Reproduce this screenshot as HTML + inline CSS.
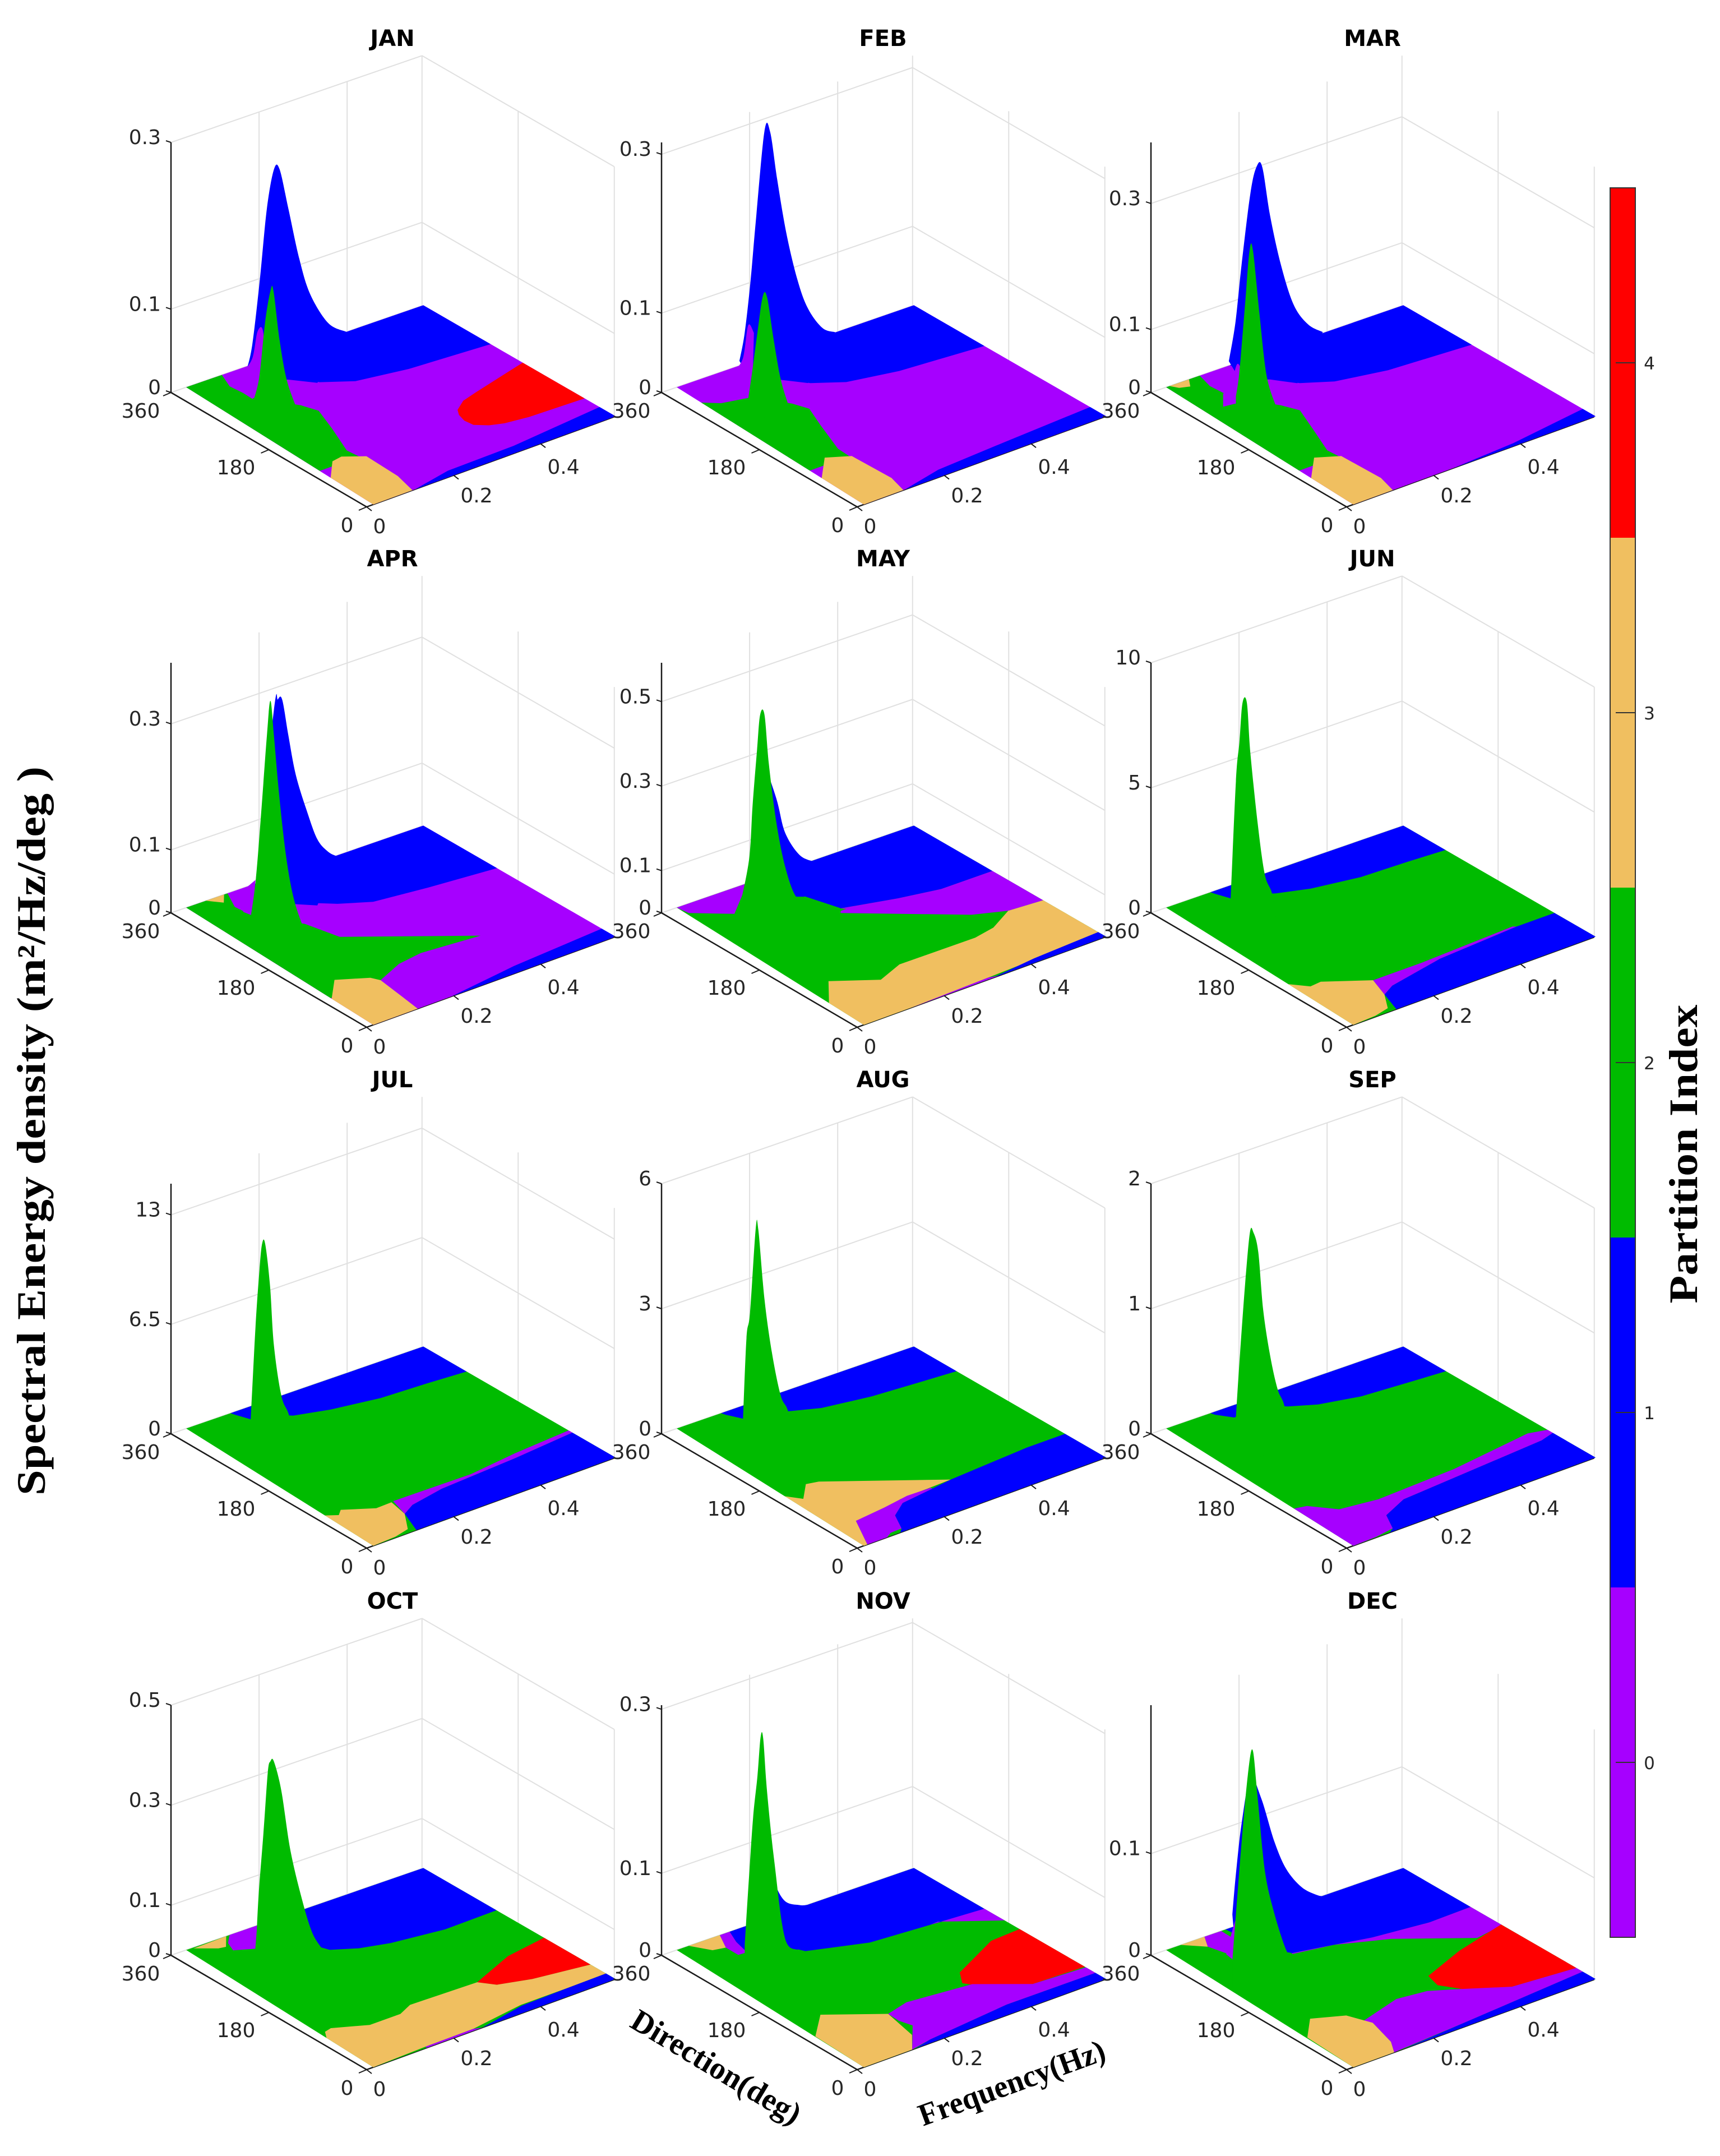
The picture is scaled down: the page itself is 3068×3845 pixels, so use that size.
<!DOCTYPE html>
<html lang="en">
<head>
<meta charset="utf-8">
<title>Monthly partitioned spectral energy density</title>
<style>
html,body{margin:0;padding:0;background:#fff;}
svg{display:block;}
text{font-family:"DejaVu Sans","Liberation Sans",sans-serif;fill:#262626;}
.big{font-family:"Liberation Serif",serif;font-weight:bold;fill:#000;}
</style>
</head>
<body>
<svg id="chart" xmlns="http://www.w3.org/2000/svg" width="3068" height="3845" viewBox="0 0 3068 3845">
<rect x="0" y="0" width="3068" height="3845" fill="#ffffff"/>
<g id="panels"></g>
<g id="colorbar"></g>
<text class="big" transform="translate(80 2017) rotate(-90)" text-anchor="middle" font-size="72" textLength="1300" lengthAdjust="spacingAndGlyphs">Spectral Energy density (m²/Hz/deg )</text>
<text class="big" transform="translate(3027 2058) rotate(-90)" text-anchor="middle" font-size="72" textLength="533" lengthAdjust="spacingAndGlyphs">Partition Index</text>
<text class="big" transform="translate(1268 3702) rotate(31)" text-anchor="middle" font-size="56" textLength="343" lengthAdjust="spacingAndGlyphs">Direction(deg)</text>
<text class="big" transform="translate(1811 3732) rotate(-20)" text-anchor="middle" font-size="56" textLength="350" lengthAdjust="spacingAndGlyphs">Frequency(Hz)</text>
</svg>
<script>
const months = ['JAN','FEB','MAR','APR','MAY','JUN','JUL','AUG','SEP','OCT','NOV','DEC'];
const zMax = [0.3,0.315,0.397,0.397,0.592,10,14.85,6,2,0.5,0.305,0.246];
const zTicks = [[0,0.1,0.3],[0,0.1,0.3],[0,0.1,0.3],[0,0.1,0.3],[0,0.1,0.3,0.5],[0,5,10],[0,6.5,13],[0,3,6],[0,1,2],[0,0.1,0.3,0.5],[0,0.1,0.3],[0,0.1]];
const basePartition = [0,0,0,0,2,2,2,2,2,2,2,2];
const freqDomain = [0.022,0.573];
const freqAxisMax = 0.57;
const partitionTicks = [0,1,2,3,4];
const partitionColors = ['#a600ff','#0000ff','#00bb00','#f0bf60','#ff0000'];

/* regions: [partition, [[frequency, direction], ...]] */
const janRegions = [
[1,[[.573,360],[.573,234],[.394,242],[.287,255],[.232,278],[.204,308],[.17,360]]],
[1,[[.117,0],[.207,13],[.359,15],[.573,30],[.573,0]]],
[4,[[.365,126],[.395,140],[.434,148],[.573,174],[.573,58],[.45,61],[.4,66],[.373,73],[.352,85],[.349,100],[.355,115]]],
[2,[[.022,360],[.105,360],[.089,332],[.096,295],[.149,245],[.162,222],[.139,177],[.109,124],[.113,103],[.022,103]]],
[3,[[.063,113],[.087,116],[.124,99],[.123,38],[.111,0],[.022,0],[.022,82]]]];
const febRegions = [
[1,[[.573,360],[.573,228],[.389,238],[.285,253],[.23,276],[.201,304],[.17,360]]],
[1,[[.115,0],[.209,15],[.368,22],[.573,30],[.573,0]]],
[2,[[.022,313],[.05,298],[.108,289],[.154,248],[.167,226],[.144,185],[.114,127],[.113,104],[.022,104]]],
[3,[[.074,119],[.117,103],[.123,32],[.112,0],[.022,0],[.022,81]]]];
const marRegions = [
[1,[[.573,360],[.573,232],[.39,240],[.285,255],[.23,276],[.2,304],[.17,360]]],
[1,[[.25,0],[.393,6],[.573,24],[.573,0]]],
[2,[[.022,360],[.1,360],[.09,332],[.096,295],[.149,245],[.165,222],[.14,177],[.11,124],[.113,104],[.022,104]]],
[3,[[.03,360],[.075,360],[.06,345],[.04,350]]],
[3,[[.074,119],[.117,103],[.123,32],[.112,0],[.022,0],[.022,81]]]];
const aprRegions = [
[1,[[.573,360],[.573,222],[.424,232],[.312,242],[.255,263],[.206,290],[.165,360]]],
[1,[[.2,0],[.36,15],[.573,26],[.573,0]]],
[2,[[.022,360],[.118,360],[.096,328],[.102,297],[.159,246],[.179,196],[.305,137],[.385,99],[.258,107],[.201,101],[.136,82],[.022,82]]],
[3,[[.068,360],[.11,360],[.09,344]]],
[3,[[.07,115],[.127,94],[.136,82],[.128,30],[.123,0],[.022,0],[.022,80]]]];
const mayRegions = [
[0,[[.022,360],[.186,360],[.093,308],[.027,341]]],
[1,[[.573,360],[.573,213],[.455,213],[.37,225],[.263,245],[.235,302],[.19,360]]],
[0,[[.573,213],[.573,118],[.498,122],[.436,140],[.251,236],[.263,245],[.37,225],[.455,213]]],
[3,[[.072,110],[.151,76],[.214,93],[.386,92],[.436,99],[.498,122],[.573,118],[.573,10],[.35,5],[.15,0],[.022,0],[.022,67]]],
[1,[[.31,0],[.42,9],[.573,15],[.573,0]]],
[0,[[.13,0],[.31,4],[.33,0]]]];
const junRegions = [
[1,[[.573,360],[.573,281],[.489,284],[.383,286],[.282,298],[.218,313],[.18,330],[.142,331],[.128,354],[.125,360]]],
[1,[[.573,77],[.486,77],[.301,68],[.169,49],[.137,37],[.12,0],[.573,0]]],
[0,[[.154,73],[.266,73],[.481,80],[.486,77],[.301,68],[.169,49],[.137,37]]],
[3,[[.022,125],[.049,105],[.075,107],[.154,73],[.137,37],[.11,8],[.075,2],[.022,0]]]];
const julRegions = [
[1,[[.573,360],[.573,279],[.487,283],[.383,286],[.282,298],[.212,312],[.18,330],[.142,331],[.128,354],[.125,360]]],
[1,[[.573,81],[.429,71],[.253,63],[.173,52],[.141,40],[.12,0],[.573,0]]],
[0,[[.154,73],[.329,71],[.442,81],[.573,88],[.573,81],[.429,71],[.253,63],[.173,52],[.141,40]]],
[3,[[.022,93],[.043,84],[.058,93],[.113,71],[.149,72],[.141,40],[.11,8],[.075,2],[.022,0]]]];
const augRegions = [
[1,[[.573,360],[.573,280],[.489,284],[.388,289],[.286,301],[.234,316],[.19,330],[.147,331],[.128,354],[.125,360]]],
[1,[[.573,77],[.486,77],[.301,68],[.177,56],[.137,37],[.116,7],[.105,0],[.573,0]]],
[3,[[.022,152],[.043,134],[.081,161],[.106,157],[.301,68],[.181,65],[.14,40],[.068,54],[.03,0],[.022,0]]],
[0,[[.03,0],[.068,54],[.14,60],[.2,67],[.253,66],[.253,63],[.177,56],[.137,37],[.116,7],[.09,6],[.075,0]]]];
const sepRegions = [
[1,[[.573,360],[.573,280],[.489,284],[.388,289],[.305,303],[.256,320],[.22,340],[.15,335],[.128,354],[.125,360]]],
[0,[[.022,114],[.047,110],[.086,81],[.166,73],[.347,79],[.536,97],[.573,90],[.573,80],[.539,73],[.335,62],[.202,55],[.14,36],[.119,6],[.075,1],[.022,0]]],
[1,[[.573,80],[.539,73],[.335,62],[.202,55],[.14,36],[.119,6],[.105,0],[.573,0]]]];
const octRegions = [
[1,[[.573,360],[.573,223],[.452,221],[.34,232],[.281,244],[.235,261],[.21,300],[.17,345],[.165,360]]],
[0,[[.101,345],[.123,360],[.187,360],[.128,315],[.091,327]]],
[3,[[.037,358],[.115,360],[.089,339],[.074,341]]],
[4,[[.37,93],[.477,123],[.573,134],[.573,47],[.456,60],[.392,74]]],
[3,[[.034,103],[.051,106],[.115,85],[.185,85],[.22,96],[.37,93],[.392,74],[.456,60],[.573,47],[.573,18],[.494,17],[.378,17],[.254,4],[.144,3],[.022,0],[.022,90]]],
[1,[[.27,0],[.378,15],[.494,17],[.573,18],[.573,0]]],
[0,[[.144,0],[.144,3],[.254,4],[.27,0]]]];
const novRegions = [
[1,[[.573,360],[.573,225],[.456,234],[.325,241],[.21,269],[.17,320],[.167,360]]],
[0,[[.573,228],[.573,190],[.474,235],[.456,234]]],
[1,[[.145,360],[.187,360],[.121,307],[.13,335]]],
[0,[[.122,360],[.145,360],[.13,335],[.121,307],[.102,308],[.101,331]]],
[3,[[.05,360],[.122,360],[.101,331],[.075,335]]],
[4,[[.382,118],[.504,159],[.573,162],[.573,40],[.458,43],[.381,75],[.36,95]]],
[0,[[.181,87],[.235,97],[.372,86],[.458,43],[.573,38],[.573,20],[.372,21],[.181,7],[.132,0],[.189,47],[.18,66]]],
[1,[[.14,0],[.181,7],[.372,21],[.573,20],[.573,0]]],
[3,[[.023,94],[.081,133],[.181,87],[.166,29],[.132,0],[.022,0]]]];
const decRegions = [
[1,[[.573,360],[.573,234],[.476,232],[.356,242],[.247,260],[.201,267],[.17,310],[.16,360]]],
[0,[[.573,234],[.573,175],[.506,167],[.38,226],[.283,254],[.199,265],[.201,267],[.247,260],[.356,242],[.476,232]]],
[0,[[.111,360],[.15,360],[.15,300],[.11,298],[.092,338]]],
[3,[[.056,360],[.111,360],[.092,338]]],
[4,[[.344,126],[.449,154],[.573,177],[.573,36],[.437,45],[.365,72],[.335,101]]],
[0,[[.143,83],[.243,103],[.306,97],[.349,81],[.437,45],[.573,36],[.573,24],[.284,8],[.115,0],[.135,23],[.153,73]]],
[1,[[.14,0],[.284,8],[.573,24],[.573,0]]],
[3,[[.024,90],[.072,125],[.132,106],[.153,73],[.135,23],[.115,0],[.022,0]]]];

/* peaks: [partition, direction, [[frequency, energy], ...]] */
const janPeaks = [
[1,270,[[.062,.052],[.074,.079],[.091,.153],[.107,.235],[.123,.279],[.136,.277],[.156,.226],[.181,.161],[.206,.114],[.247,.072],[.288,.054],[.222,.005],[.156,.021],[.082,.035]]],
[0,270,[[.053,.049],[.074,.062],[.086,.092],[.099,.087],[.103,.018],[.074,.013],[.049,.026]]],
[2,240,[[.041,.031],[.053,.056],[.066,.118],[.078,.153],[.085,.152],[.099,.09],[.115,.04],[.136,.004],[.136,0],[.041,0]]]];
const febPeaks = [
[1,270,[[.066,.063],[.078,.096],[.091,.157],[.103,.23],[.123,.341],[.136,.338],[.152,.275],[.173,.203],[.198,.14],[.222,.099],[.255,.068],[.284,.057],[.222,.005],[.16,.021],[.091,.035]]],
[0,270,[[.053,.052],[.074,.065],[.086,.104],[.099,.092],[.095,.012],[.053,.018]]],
[2,240,[[.049,.031],[.058,.063],[.07,.11],[.082,.153],[.092,.15],[.107,.094],[.123,.041],[.14,.006],[.14,0],[.049,0]]]];
const marPeaks = [
[1,270,[[.066,.079],[.081,.137],[.095,.225],[.115,.333],[.129,.372],[.142,.369],[.16,.287],[.185,.202],[.214,.132],[.247,.093],[.28,.073],[.222,.006],[.16,.027],[.091,.044]]],
[0,270,[[.053,.03],[.074,.05],[.086,.07],[.099,.05],[.095,.007],[.053,.01]]],
[2,240,[[.045,.043],[.053,.081],[.066,.185],[.076,.267],[.084,.265],[.099,.159],[.115,.059],[.136,.006],[.136,0],[.045,0]]]];
const aprPeaks = [
[1,270,[[.082,.078],[.123,.337],[.132,.352],[.142,.349],[.156,.289],[.173,.222],[.198,.159],[.222,.108],[.247,.082],[.267,.07],[.222,.003],[.173,.017],[.082,.046]]],
[0,270,[[.053,.068],[.081,.078],[.074,.023],[.053,.034]]],
[2,240,[[.033,.045],[.045,.105],[.058,.215],[.07,.325],[.078,.378],[.086,.321],[.099,.216],[.115,.116],[.132,.049],[.152,.002],[.152,0],[.033,0]]]];
const mayPeaks = [
[1,270,[[.115,.404],[.15,.284],[.17,.196],[.203,.131],[.236,.103],[.214,.028],[.115,.065]]],
[2,240,[[.03,.095],[.051,.199],[.059,.325],[.069,.45],[.076,.531],[.086,.528],[.096,.408],[.113,.264],[.133,.152],[.158,.071],[.191,.039],[.273,0],[.03,0]]]];
const junPeaks = [
[2,240,[[.033,1.86],[.045,6.5],[.053,8.03],[.06,9.55],[.07,9.49],[.078,7.44],[.095,4.47],[.111,2.37],[.128,1.47],[.14,0],[.033,0]]]];
const julPeaks = [
[2,240,[[.033,2.76],[.044,8.18],[.053,11.5],[.059,13],[.066,12.95],[.077,10.4],[.086,6.72],[.103,3.58],[.121,2.2],[.135,0],[.033,0]]]];
const augPeaks = [
[2,240,[[.037,1.1],[.045,3.04],[.053,3.62],[.066,5.58],[.072,5.55],[.086,3.83],[.103,2.48],[.123,1.38],[.14,.93],[.155,0],[.037,0]]]];
const sepPeaks = [
[2,240,[[.045,.38],[.053,.81],[.066,1.42],[.077,1.82],[.085,1.81],[.096,1.64],[.107,1.17],[.123,.78],[.14,.49],[.156,.33],[.17,0],[.045,0]]]];
const octPeaks = [
[2,240,[[.045,.073],[.051,.179],[.062,.3],[.072,.419],[.078,.44],[.086,.437],[.103,.373],[.123,.251],[.148,.149],[.173,.069],[.198,.025],[.21,0],[.045,0]]]];
const novPeaks = [
[1,270,[[.123,.141],[.146,.096],[.17,.069],[.203,.058],[.22,.055],[.198,.004],[.115,.029]]],
[2,240,[[.041,.052],[.051,.134],[.06,.203],[.07,.252],[.077,.297],[.083,.296],[.092,.228],[.109,.138],[.133,.042],[.166,.02],[.18,0],[.041,0]]]];
const decPeaks = [
[1,270,[[.074,.057],[.082,.095],[.095,.143],[.115,.185],[.14,.161],[.17,.114],[.197,.083],[.232,.06],[.267,.047],[.285,.043],[.206,0],[.082,.015]]],
[0,270,[[.06,.02],[.085,.053],[.1,.03],[.1,0]]],
[2,240,[[.037,.027],[.045,.071],[.058,.14],[.072,.203],[.083,.227],[.094,.181],[.111,.104],[.133,.058],[.16,.018],[.173,.012],[.19,0],[.037,0]]]];

const allRegions = [janRegions,febRegions,marRegions,aprRegions,mayRegions,junRegions,julRegions,augRegions,sepRegions,octRegions,novRegions,decRegions];
const allPeaks = [janPeaks,febPeaks,marPeaks,aprPeaks,mayPeaks,junPeaks,julPeaks,augPeaks,sepPeaks,octPeaks,novPeaks,decPeaks];

const NS = 'http://www.w3.org/2000/svg';
const colOrigin = [654,1529,2402];
const rowOrigin = [904,1832,2761,3691];
const FREQ_X = 775, FREQ_Y = 282, DIR_X = 349, DIR_Y = 204, Z_H = 446;
const CROSS_X = 6, CROSS_Y = -6;

function svgEl(tag, attrs, parent){
  const n = document.createElementNS(NS, tag);
  for (const k in attrs) n.setAttribute(k, attrs[k]);
  parent.appendChild(n);
  return n;
}
function projector(ox, oy, zm){
  return function(f, d, e){
    const s = d/360, u = f/freqAxisMax;
    return [ox + FREQ_X*f - DIR_X*s + CROSS_X*u*s, oy - FREQ_Y*f - DIR_Y*s - CROSS_Y*u*s - (e/zm)*Z_H];
  };
}
function surfaceProjector(P){
  return function(f, d, e){
    return P(f + (d/360*0.02 - 0.007)*(1 - f/freqDomain[1]), d, e);
  };
}
function pts(list){
  return list.map(function(p){ return p[0].toFixed(1)+','+p[1].toFixed(1); }).join(' ');
}
/* smooth the rising/falling silhouette (screen x increasing); keep closing edges straight */
function smoothPath(list){
  const n = list.length;
  let out = 'M' + list[0][0].toFixed(1) + ' ' + list[0][1].toFixed(1);
  for (let i = 0; i < n; i++){
    const a = list[i], b = list[(i+1)%n];
    if (b[0] > a[0] && i+1 < n){
      const prev = (i > 0 && list[i-1][0] < a[0]) ? list[i-1] : a;
      const next = (i+2 < n && list[i+2][0] > b[0]) ? list[i+2] : b;
      const c1x = a[0] + (b[0]-prev[0])/6, c1y = a[1] + (b[1]-prev[1])/6;
      const c2x = b[0] - (next[0]-a[0])/6, c2y = b[1] - (next[1]-a[1])/6;
      out += ' C' + c1x.toFixed(1) + ' ' + c1y.toFixed(1) + ' ' + c2x.toFixed(1) + ' ' + c2y.toFixed(1) + ' ' + b[0].toFixed(1) + ' ' + b[1].toFixed(1);
    } else if (i+1 < n){
      out += ' L' + b[0].toFixed(1) + ' ' + b[1].toFixed(1);
    }
  }
  return out + ' Z';
}
function drawLine(parent, a, b, color, width){
  return svgEl('line',{x1:a[0],y1:a[1],x2:b[0],y2:b[1],stroke:color,'stroke-width':width},parent);
}

const panelsRoot = document.getElementById('panels');
months.forEach(function(month, i){
  const ox = colOrigin[i%3], oy = rowOrigin[Math.floor(i/3)], zm = zMax[i];
  const P = projector(ox, oy, zm);
  const S = surfaceProjector(P);
  const g = svgEl('g',{},panelsRoot);
  
  

  /* walls: verticals */
  const gridColor = '#e0e0e0';
  const wallVerticals = [[.2,360],[.4,360],[freqAxisMax,360],[freqAxisMax,180],[freqAxisMax,0]];
  wallVerticals.forEach(function(v){
    const gl = drawLine(g, P(v[0],v[1],0), P(v[0],v[1],zm), gridColor, 2);
    
    
  });
  zTicks[i].forEach(function(t){
    const a = drawLine(g, P(0,360,t), P(freqAxisMax,360,t), gridColor, 2);
    
    
    const b = drawLine(g, P(freqAxisMax,360,t), P(freqAxisMax,0,t), gridColor, 2);
    
    
  });

  /* axes */
  const axisColor = '#1a1a1a';
  const zAxis = drawLine(g, P(0,360,0), P(0,360,zm), axisColor, 2.5);
  
  
  const dirAxis = drawLine(g, P(0,360,0), P(0,0,0), axisColor, 2.5);
  
  
  const freqAxis = drawLine(g, P(0,0,0), P(freqAxisMax,0,0), axisColor, 2.5);
  
  

  /* surface floor */
  const fA = freqDomain[0], fB = freqDomain[1];
  const base = svgEl('polygon',{points:pts([S(fA,0,0),S(fA,360,0),S(fB,360,0),S(fB,0,0)]),fill:partitionColors[basePartition[i]]},g);
  
  
  allRegions[i].forEach(function(r){
    const poly = svgEl('polygon',{points:pts(r[1].map(function(q){return S(q[0],q[1],0);})),fill:partitionColors[r[0]]},g);
    
    
  });
  allPeaks[i].forEach(function(pk){
    const poly = svgEl('path',{d:smoothPath(pk[2].map(function(q){return P(q[0],pk[1],q[1]);})),fill:partitionColors[pk[0]]},g);
    
    
  });

  /* z ticks */
  zTicks[i].forEach(function(t){
    const p = P(0,360,t);
    const tk = drawLine(g, p, [p[0]-9,p[1]-3], axisColor, 2);
    
    
    const lb = svgEl('text',{x:p[0]-18,y:p[1]+3,'font-size':36,'text-anchor':'end'},g);
    lb.textContent = String(t);
    
    
  });

  /* direction ticks and labels */
  const dirTickValues = [0,180,360];
  const dirLabelOffset = [[-35,45],[-233,-58],[-403,-159]];
  dirTickValues.forEach(function(v, k){
    const p = P(0,v,0);
    const tk = drawLine(g, p, [p[0]-14,p[1]+6], axisColor, 2);
    
    
    const lb = svgEl('text',{x:ox+dirLabelOffset[k][0],y:oy+dirLabelOffset[k][1],'font-size':36,'text-anchor':'middle'},g);
    lb.textContent = String(v);
    
    
  });

  /* frequency ticks and labels */
  const freqTickValues = [0,0.2,0.4];
  const freqLabelOffset = [[23,47],[196,-8],[351,-59]];
  freqTickValues.forEach(function(v, k){
    const p = P(v,0,0);
    const tk = drawLine(g, p, [p[0]+9,p[1]+7], axisColor, 2);
    
    
    const lb = svgEl('text',{x:ox+freqLabelOffset[k][0],y:oy+freqLabelOffset[k][1],'font-size':36,'text-anchor':'middle'},g);
    lb.textContent = String(v);
    
    
  });

  /* title */
  const title = svgEl('text',{x:ox+46,y:oy-822,'font-size':40,'font-weight':'bold','text-anchor':'middle',style:'fill:#000'},g);
  title.textContent = month;
  
  
});

/* colorbar */
const barRoot = document.getElementById('colorbar');
const barX = 2872, barW = 45, barTop = 335, barBottom = 3455;
const segH = (barBottom-barTop)/partitionTicks.length;
function barY(v){ return barBottom - (v+0.5)*segH; }
partitionTicks.forEach(function(v){
  const seg = svgEl('rect',{x:barX,y:barY(v)-segH/2,width:barW,height:segH,fill:partitionColors[v]},barRoot);
  
  
});
const barFrame = svgEl('rect',{x:barX,y:barTop,width:barW,height:barBottom-barTop,fill:'none',stroke:'#333','stroke-width':2},barRoot);


partitionTicks.forEach(function(v){
  const tk = drawLine(barRoot,[barX+10,barY(v)],[barX+barW,barY(v)],'#333',2);
  
  
  const lb = svgEl('text',{x:2942,y:barY(v)+12,'font-size':31,'text-anchor':'middle'},barRoot);
  lb.textContent = String(v);
  
  
});
</script>
</body>
</html>
